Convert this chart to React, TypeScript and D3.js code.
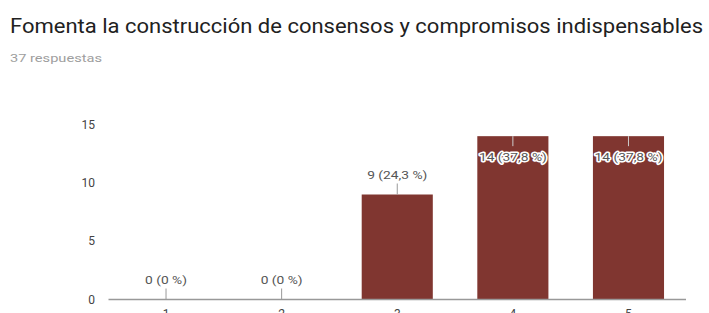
import React from "react";
import * as d3 from "d3";

const categories = ["1", "2", "3", "4", "5"];
const counts = [0, 0, 9, 14, 14];
const percentLabels = ["0 %", "0 %", "24,3 %", "37,8 %", "37,8 %"];
const yTicks = [0, 5, 10, 15];
const title = "Fomenta la construcción de consensos y compromisos indispensables";
const subtitle = "37 respuestas";

const W = 709;
const H = 313;
const FONT = "Roboto, Arial, sans-serif";

export default function App() {
  const x = d3.scaleBand<string>().domain(categories).range([108.5, 686]).paddingInner(0.385).paddingOuter(0.19);
  const y = d3.scaleLinear().domain([0, 15]).range([299.5, 124.5]);
  const chartTop = 124.5;

  return (
    <svg width={W} height={H} style={{ position: "absolute", left: 0, top: 0, background: "#fff" }}>
      <text x={10} y={33} fontFamily={FONT} fontSize={20} fill="#212121" textLength={693} lengthAdjust="spacingAndGlyphs">{title}</text>
      <text x={10} y={62} fontFamily={FONT} fontSize={11} fill="#9e9e9e" textLength={92} lengthAdjust="spacingAndGlyphs">{subtitle}</text>

      {yTicks.map((t) => (
        <text key={t} x={95} y={y(t) + 4} textAnchor="end" fontFamily={FONT} fontSize={12} fill="#444">{t}</text>
      ))}

      {categories.map((c, i) => {
        const bx = x(c)!;
        const bw = x.bandwidth();
        const top = y(counts[i]);
        return (
          <rect key={c} x={bx} y={top} width={bw} height={y(0) - top} fill="#803630" />
        );
      })}

      <line x1={108.5} x2={686} y1={299.5} y2={299.5} stroke="#999" strokeWidth={1.5} />

      {categories.map((c, i) => {
        const cx = x(c)! + x.bandwidth() / 2;
        const top = y(counts[i]);
        const inside = top - chartTop < 20;
        const lineEnd = inside ? top + 10 : top - 11;
        const textY = inside ? top + 25 : top - 16;
        return (
          <g key={"a" + c}>
            <line x1={cx} x2={cx} y1={top} y2={lineEnd} stroke={inside ? "#ccc" : "#999"} strokeWidth={1} />
            <text transform={`translate(${cx},${textY}) scale(1.2,1)`} textAnchor="middle" fontFamily={FONT} fontSize={11.5}
              fill="#555" stroke="#fff" strokeWidth={3} strokeLinejoin="round" style={{ paintOrder: "stroke" }}>
              {`${counts[i]} (${percentLabels[i]})`}
            </text>
          </g>
        );
      })}

      {categories.map((c) => (
        <text key={"x" + c} x={x(c)! + x.bandwidth() / 2} y={318} textAnchor="middle" fontFamily={FONT} fontSize={12} fill="#444">{c}</text>
      ))}
    </svg>
  );
}
